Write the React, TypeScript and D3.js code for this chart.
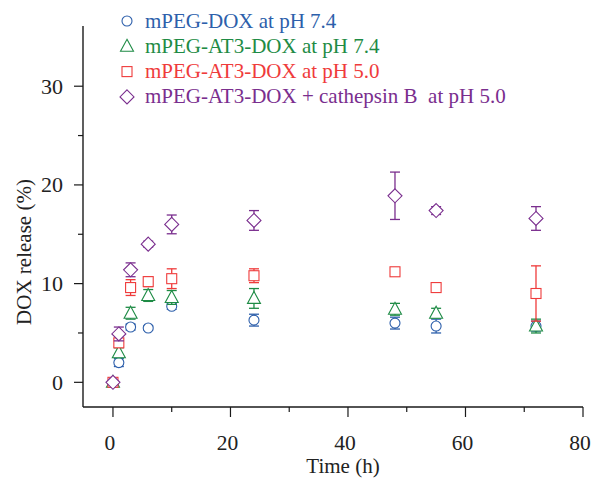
import React from "react";
import * as d3 from "d3";

const times = [0, 1, 3, 6, 10, 24, 48, 55, 72];
const mpegDox74 = [0, 2.0, 5.6, 5.5, 7.7, 6.3, 6.0, 5.7, 5.7];
const mpegDox74Err = [0.1, 0.4, 0.3, 0.2, 0.3, 0.6, 0.6, 0.7, 0.5];
const at3Dox74 = [0, 3.0, 7.0, 8.8, 8.6, 8.5, 7.4, 7.0, 5.7];
const at3Dox74Err = [0.1, 0.5, 0.6, 0.6, 0.7, 1.0, 0.6, 0.5, 0.7];
const at3Dox50 = [0, 4.0, 9.6, 10.2, 10.5, 10.8, 11.2, 9.6, 9.0];
const at3Dox50Err = [0.1, 0.4, 0.8, 0.5, 1.0, 0.7, 0.3, 0.3, 2.8];
const at3DoxCath = [0, 4.9, 11.4, 14.0, 16.0, 16.4, 18.9, 17.4, 16.6];
const at3DoxCathErr = [0.1, 0.7, 0.7, 0.3, 0.95, 1.0, 2.4, 0.4, 1.2];

const seriesNames = [
  "mPEG-DOX at pH 7.4",
  "mPEG-AT3-DOX at pH 7.4",
  "mPEG-AT3-DOX at pH 5.0",
  "mPEG-AT3-DOX + cathepsin B  at pH 5.0",
];
const seriesColors = ["#2d5fab", "#1e8b45", "#ef3b3b", "#7a2e8e"];
const seriesShapes = ["circle", "triangle", "square", "diamond"];
const seriesValues = [mpegDox74, at3Dox74, at3Dox50, at3DoxCath];
const seriesErrors = [mpegDox74Err, at3Dox74Err, at3Dox50Err, at3DoxCathErr];

const xMajorTicks = [0, 20, 40, 60, 80];
const xMinorTicks = [10, 30, 50, 70];
const yMajorTicks = [0, 10, 20, 30];
const yMinorTicks = [5, 15, 25];

const W = 591;
const H = 478;
const FONT = "Liberation Serif, Times New Roman, DejaVu Serif, serif";
const txt = { fontFamily: FONT };

function Marker({ shape, x, y, color }: { shape: string; x: number; y: number; color: string }) {
  const common = { fill: "white", stroke: color, strokeWidth: 1.1 };
  if (shape === "circle") return <circle cx={x} cy={y} r={5} {...common} />;
  if (shape === "square") return <rect x={x - 5} y={y - 5} width={10} height={10} {...common} />;
  if (shape === "triangle")
    return <path d={`M${x},${y - 7}L${x + 6.5},${y + 5}L${x - 6.5},${y + 5}Z`} {...common} />;
  return <path d={`M${x},${y - 7}L${x + 7},${y}L${x},${y + 7}L${x - 7},${y}Z`} {...common} />;
}

export default function App() {
  const x = d3.scaleLinear().domain([-5.1, 80]).range([83, 583]);
  const y = d3.scaleLinear().domain([-2.5, 36.1]).range([407, 26]);
  const axisColor = "#1a1a1a";

  return (
    <svg width={W} height={H} style={{ position: "absolute", left: 0, top: 0, background: "white" }}>
      <rect width={W} height={H} fill="white" />
      {/* axes */}
      <line x1={83} x2={83} y1={y(36.1)} y2={y(-2.5)} stroke={axisColor} strokeWidth={1.4} />
      <line x1={83} x2={x(80)} y1={y(-2.5)} y2={y(-2.5)} stroke={axisColor} strokeWidth={1.4} />
      {yMajorTicks.map((t) => (
        <g key={"ym" + t}>
          <line x1={74} x2={83} y1={y(t)} y2={y(t)} stroke={axisColor} strokeWidth={1.2} />
          <text x={63} y={y(t) + 7.5} fontSize={22} textAnchor="end" fill="#222" style={txt}>
            {t}
          </text>
        </g>
      ))}
      {yMinorTicks.map((t) => (
        <line key={"yn" + t} x1={78} x2={83} y1={y(t)} y2={y(t)} stroke={axisColor} strokeWidth={1.2} />
      ))}
      {xMajorTicks.map((t) => (
        <g key={"xm" + t}>
          <line x1={x(t)} x2={x(t)} y1={407} y2={417} stroke={axisColor} strokeWidth={1.2} />
          <text x={x(t) - 3} y={450} fontSize={21.5} textAnchor="middle" fill="#222" style={txt}>
            {t}
          </text>
        </g>
      ))}
      {xMinorTicks.map((t) => (
        <line key={"xn" + t} x1={x(t)} x2={x(t)} y1={407} y2={412} stroke={axisColor} strokeWidth={1.2} />
      ))}
      <text x={343} y={473} fontSize={21} textAnchor="middle" fill="#222" style={txt}>
        Time (h)
      </text>
      <text transform={`translate(31,252) rotate(-90)`} fontSize={21} textAnchor="middle" fill="#222" style={txt}>
        DOX release (%)
      </text>

      {/* data */}
      {seriesValues.map((vals, si) => (
        <g key={"s" + si}>
          {vals.map((v, i) => {
            const e = seriesErrors[si][i];
            const cx = x(times[i]);
            const top = y(v + e);
            const bot = y(v - e);
            const c = seriesColors[si];
            return (
              <g key={i}>
                <line x1={cx} x2={cx} y1={top} y2={bot} stroke={c} strokeWidth={1.3} />
                <line x1={cx - 5} x2={cx + 5} y1={top} y2={top} stroke={c} strokeWidth={1.3} />
                <line x1={cx - 5} x2={cx + 5} y1={bot} y2={bot} stroke={c} strokeWidth={1.3} />
                <Marker shape={seriesShapes[si]} x={cx} y={y(v)} color={c} />
              </g>
            );
          })}
        </g>
      ))}

      {/* legend */}
      {seriesNames.map((n, i) => {
        const ly = 21 + i * 25.3;
        return (
          <g key={"l" + i}>
            <Marker shape={seriesShapes[i]} x={127} y={ly} color={seriesColors[i]} />
            <text x={145} y={ly + 6.5} fontSize={21} fill={seriesColors[i]} style={{ ...txt, whiteSpace: "pre" }}>
              {n}
            </text>
          </g>
        );
      })}
    </svg>
  );
}
